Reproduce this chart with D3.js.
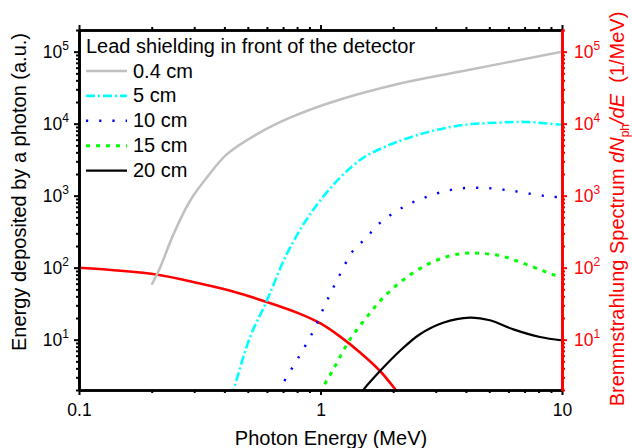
<!DOCTYPE html>
<html>
<head>
<meta charset="utf-8">
<script src="https://cdn.jsdelivr.net/npm/d3@7"></script>
<style>
  html, body { margin: 0; padding: 0; background: #fff; }
  svg { display: block; font-family: "Liberation Sans", Arial, sans-serif; }
  text { white-space: pre; }
</style>
</head>
<body>
<svg id="chart" width="632" height="448"></svg>
<script>
// Photon energy grid (MeV) and deposited energy per photon for each lead thickness
const energy04 = [0.2, 0.2165, 0.246, 0.288, 0.338, 0.409, 0.544, 0.748, 1.095, 2.07, 3.9, 10];
const deposit04 = [58, 100, 290, 843, 1780, 3750, 7110, 12100, 19550, 35250, 53900, 100000];

const energy5 = [0.425, 0.436, 0.51, 0.599, 0.724, 0.905, 1.204, 1.504, 1.764, 2.07, 2.84, 3.9, 5.37, 7.14, 9.5, 10];
const deposit5 = [1.6, 2, 10.7, 34.4, 153, 551, 1778, 3365, 4450, 5560, 7780, 9590, 10330, 10550, 9800, 9700];

const energy10 = [0.68, 0.698, 0.809, 0.934, 1.047, 1.185, 1.367, 1.543, 1.735, 2.23, 2.89, 3.71, 4.79, 6.17, 7.96, 9.03, 10];
const deposit10 = [1.8, 2.4, 5.6, 13.2, 31, 72.6, 174, 256, 400, 711, 1021, 1250, 1278, 1172, 1021, 968, 950];

const energy15 = [1.0, 1.01, 1.13, 1.325, 1.53, 1.79, 2.17, 2.62, 3.18, 3.9, 4.65, 5.63, 6.92, 8.37, 9.3, 10];
const deposit15 = [1.8, 2, 3.87, 10.1, 19.2, 36.3, 65.3, 100, 135, 158, 158, 145, 115, 90, 79, 74];

const energy20 = [1.48, 1.504, 1.764, 2.13, 2.58, 3.22, 4.16, 5.03, 6.29, 8.11, 10];
const deposit20 = [1.8, 2, 3.67, 6.96, 11.9, 17.2, 20.2, 18.6, 13.9, 10.9, 9.8];

// Bremsstrahlung spectrum dN/dE (1/MeV)
const energyBrems = [0.1, 0.2025, 0.3166, 0.4345, 0.5997, 0.8225, 1.0, 1.2025, 1.458, 1.7645, 2.05, 2.1];
const spectrumBrems = [100, 81.7, 60.3, 46.7, 33.3, 22.8, 16.8, 11.1, 6.64, 3.67, 2, 1.8];

const legendLabels = ["0.4 cm", "5 cm", "10 cm", "15 cm", "20 cm"];
const xTickLabels = ["0.1", "1", "10"];
const yTickExponents = [1, 2, 3, 4, 5];

const series = [
  { label: legendLabels[0], e: energy04, v: deposit04, color: "#c0c0c0", width: 2.5, dash: null },
  { label: legendLabels[1], e: energy5,  v: deposit5,  color: "#00ffff", width: 2.6, dash: "9,3,2,3" },
  { label: legendLabels[2], e: energy10, v: deposit10, color: "#0000ff", width: 2.4, dash: "2.2,11" },
  { label: legendLabels[3], e: energy15, v: deposit15, color: "#00ff00", width: 3,   dash: "4,6" },
  { label: legendLabels[4], e: energy20, v: deposit20, color: "#000000", width: 2.2, dash: null }
];

const svg = d3.select("#chart");
const plotLeft = 79, plotRight = 562, plotTop = 30, plotBottom = 390;

const x = d3.scaleLog().domain([0.1, 10]).range([plotLeft, plotRight]);
const y = d3.scaleLog().domain([2, 2e5]).range([plotBottom, plotTop]);

svg.append("clipPath").attr("id", "plotClip")
  .append("rect").attr("x", plotLeft).attr("y", plotTop)
  .attr("width", plotRight - plotLeft).attr("height", plotBottom - plotTop);

const plot = svg.append("g").attr("clip-path", "url(#plotClip)");

const line = d3.line()
  .x(d => x(d[0]))
  .y(d => y(d[1]))
  .curve(d3.curveCatmullRom.alpha(0.5));

// Red bremsstrahlung spectrum (right axis, same decades)
plot.append("path")
  .attr("d", line(d3.zip(energyBrems, spectrumBrems)))
  .attr("fill", "none").attr("stroke", "#ff0000").attr("stroke-width", 2.6);

series.forEach(s => {
  plot.append("path")
    .attr("d", line(d3.zip(s.e, s.v)))
    .attr("fill", "none")
    .attr("stroke", s.color)
    .attr("stroke-width", s.width)
    .attr("stroke-dasharray", s.dash);
});

// Axes
const isDecade = v => Math.abs(Math.log10(v) - Math.round(Math.log10(v))) < 1e-9;
const xAll = x.ticks();
const xMajor = xAll.filter(isDecade);
const xMinor = xAll.filter(v => !isDecade(v));
const yAll = y.ticks();
const yMajor = yAll.filter(isDecade);
const yMinor = yAll.filter(v => !isDecade(v));

function styleAxis(g, color) {
  g.select(".domain").attr("stroke", color).attr("stroke-width", 2.7);
  g.selectAll(".tick line").attr("stroke", color).attr("stroke-width", 2);
  g.selectAll(".tick text").remove();
}

function addAxis(axisFn, scale, transform, color, majorLen, minorLen, majors, minors) {
  const gMin = svg.append("g").attr("transform", transform)
    .call(axisFn(scale).tickValues(minors).tickSize(minorLen).tickSizeOuter(0).tickFormat(""));
  styleAxis(gMin, color);
  const gMaj = svg.append("g").attr("transform", transform)
    .call(axisFn(scale).tickValues(majors).tickSize(majorLen).tickSizeOuter(0).tickFormat(""));
  styleAxis(gMaj, color);
  return gMaj;
}

const gBottom = addAxis(d3.axisBottom, x, `translate(0,${plotBottom})`, "#000", 5, 3, xMajor, xMinor);
addAxis(d3.axisTop, x, `translate(0,${plotTop})`, "#000", 5, 3, xMajor, xMinor);
const gLeft = addAxis(d3.axisLeft, y, `translate(${plotLeft},0)`, "#000", 5, 3, yMajor, yMinor);
const gRight = addAxis(d3.axisRight, y, `translate(${plotRight},0)`, "#ff0000", 5, 3, yMajor, yMinor);

// Tick labels
const tickFont = 17.5, supFont = 12;
gBottom.selectAll(".tick").append("text")
  .attr("y", 26).attr("text-anchor", "middle")
  .attr("font-size", tickFont).attr("fill", "#000")
  .text((d, i) => xTickLabels[i]);

function powerLabel(sel, anchorX, anchor, color) {
  sel.each(function(d, i) {
    const t = d3.select(this).append("text")
      .attr("x", anchorX).attr("y", 6.3)
      .attr("text-anchor", anchor)
      .attr("font-size", tickFont).attr("fill", color);
    t.append("tspan").text("10");
    t.append("tspan").attr("font-size", supFont).attr("dy", -8).text(String(yTickExponents[i]));
  });
}
powerLabel(gLeft.selectAll(".tick"), -10, "end", "#000");
powerLabel(gRight.selectAll(".tick"), 12, "start", "#ff0000");

// Axis titles
svg.append("text")
  .attr("x", 331).attr("y", 445)
  .attr("text-anchor", "middle").attr("font-size", 20).attr("fill", "#000")
  .text("Photon Energy (MeV)");

svg.append("text")
  .attr("transform", "translate(26,192) rotate(-90)")
  .attr("text-anchor", "middle").attr("font-size", 20).attr("fill", "#000")
  .text("Energy deposited by a photon (a.u.)");

const rTitle = svg.append("text")
  .attr("transform", "translate(624,209) rotate(-90)")
  .attr("text-anchor", "middle").attr("font-size", 20).attr("fill", "#ff0000");
rTitle.append("tspan").text("Bremmstrahlung Spectrum ");
rTitle.append("tspan").attr("font-style", "italic").text("dN");
rTitle.append("tspan").attr("font-size", 12).attr("dy", 5).text("ph");
rTitle.append("tspan").attr("font-style", "italic").attr("dy", -5).text("/dE");
rTitle.append("tspan").text("  (1/MeV)");

// Legend
const legend = svg.append("g");
legend.append("text")
  .attr("x", 86).attr("y", 52.7)
  .attr("font-size", 20).attr("fill", "#000")
  .text("Lead shielding in front of the detector");

series.forEach((s, i) => {
  const cy = 71 + i * 24.9;
  legend.append("line")
    .attr("x1", 86).attr("x2", 127).attr("y1", cy).attr("y2", cy)
    .attr("stroke", s.color).attr("stroke-width", s.width)
    .attr("stroke-dasharray", s.dash);
  legend.append("text")
    .attr("x", 133).attr("y", cy + 6.5)
    .attr("font-size", 20).attr("fill", "#000")
    .text(s.label);
});
</script>
</body>
</html>
